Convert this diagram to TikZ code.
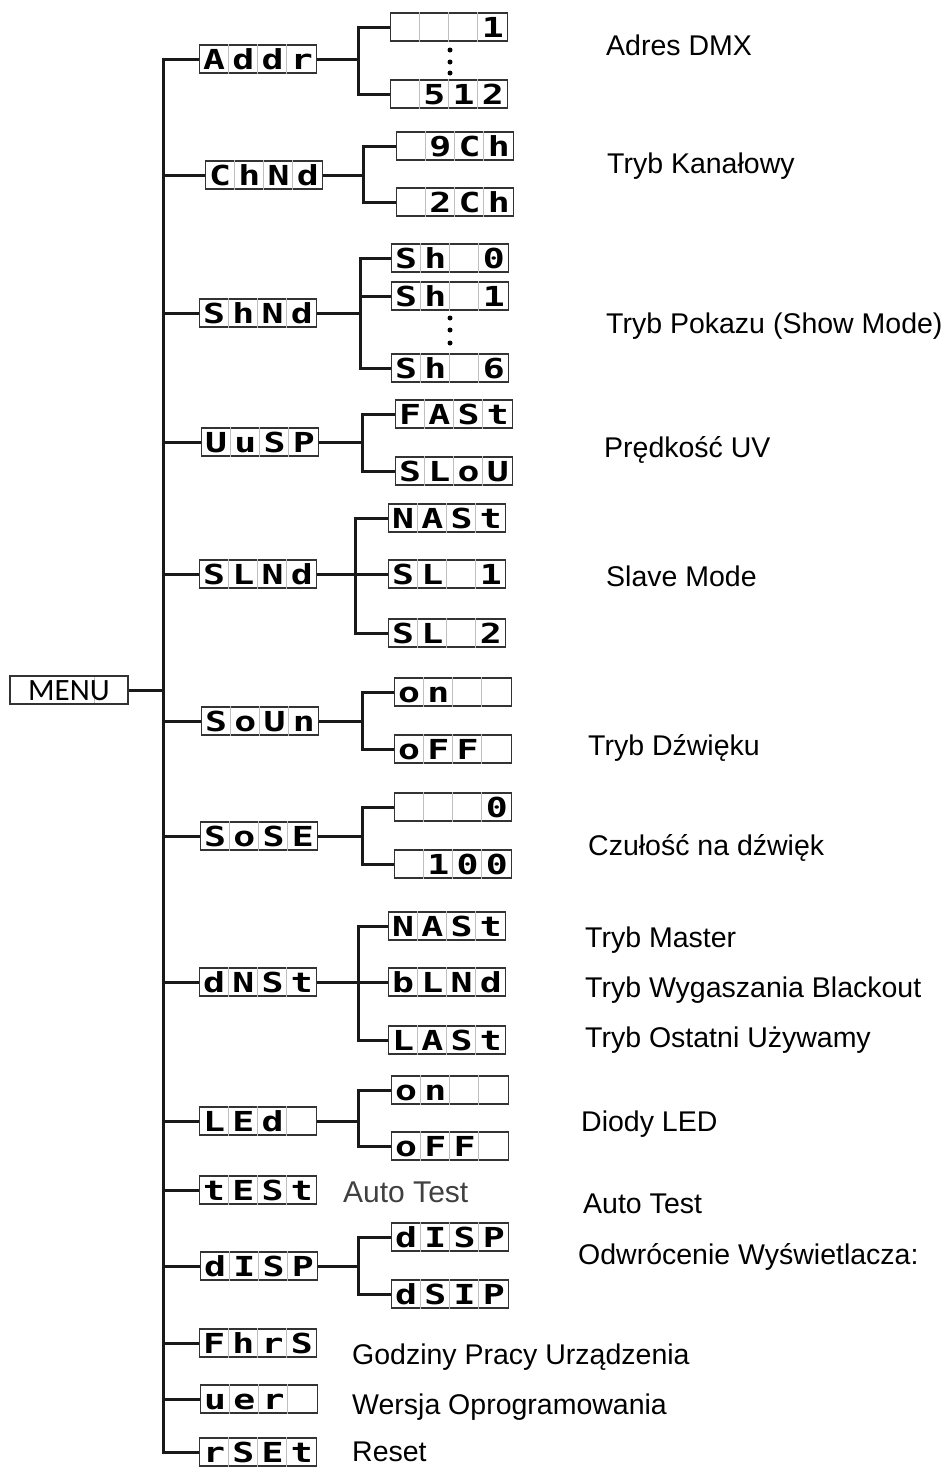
\documentclass[tikz,border=0pt]{standalone}
\usepackage{fontspec}
\usepackage{graphicx}
\setmainfont{Liberation Sans}
\newfontfamily\segfont{DejaVu Sans Mono Bold}
\newfontfamily\menufont{Carlito}
\usetikzlibrary{calc}
\tikzset{
  tree/.style={line width=3pt, draw=black!90},
  dbox/.style={draw=black!80, line width=1.4pt, minimum width=117pt, minimum height=28pt, inner sep=0pt},
  cellsep/.style={draw=black!25, line width=1pt},
  seg/.style={font=\segfont\fontsize{27}{27}\selectfont, inner sep=0pt, anchor=base},
  lbl/.style={font=\fontsize{28.5}{30}\selectfont, anchor=base west, inner sep=0pt},
  dotmark/.style={fill=black, draw=none},
}
\newcommand\segcell[4]{%
  \if\relax\detokenize{#4}\relax\else
    \node[seg] (#1) at (#2,#3) {\scalebox{1.35}[1.02]{#4}};%
  \fi}
\newcommand\dispbox[7]{%
  \node[dbox] (#1) at (#2,#3) {};
  \foreach \i in {1,2,3} {\draw[cellsep] ($(#1.south west)+(29.25*\i,0)$) -- ($(#1.north west)+(29.25*\i,0)$);}
  \segcell{#1-1}{#2-43.875}{#3+10}{#4}
  \segcell{#1-2}{#2-14.625}{#3+10}{#5}
  \segcell{#1-3}{#2+14.625}{#3+10}{#6}
  \segcell{#1-4}{#2+43.875}{#3+10}{#7}
}
\begin{document}
\begin{tikzpicture}[x=1pt,y=-1pt]
\useasboundingbox (0,0) rectangle (951,1468);

% MENU
\node[draw=black!80, line width=1.4pt, minimum width=118pt, minimum height=28pt, inner sep=0pt] (menu) at (69,690) {};
\draw[cellsep] (94,677) -- (94,703);
\node[font=\menufont\fontsize{31}{31}\selectfont, inner sep=0pt, anchor=base] (menutxt) at (69,700) {MENU};

% level 1
\dispbox{addr}{258}{59}{A}{d}{d}{r}
\dispbox{chnd}{264}{175}{C}{h}{N}{d}
\dispbox{shnd}{258}{313}{S}{h}{N}{d}
\dispbox{uusp}{260}{442}{U}{u}{S}{P}
\dispbox{slnd}{258}{574}{S}{L}{N}{d}
\dispbox{soun}{260}{721}{S}{o}{U}{n}
\dispbox{sose}{259}{836}{S}{o}{S}{E}
\dispbox{dnst}{258}{982}{d}{N}{S}{t}
\dispbox{led}{258}{1121}{L}{E}{d}{}
\dispbox{test}{258}{1190}{t}{E}{S}{t}
\dispbox{disp}{259}{1266}{d}{I}{S}{P}
\dispbox{fhrs}{258}{1343}{F}{h}{r}{S}
\dispbox{ver}{259}{1399}{u}{e}{r}{}
\dispbox{rset}{258}{1452}{r}{S}{E}{t}

% trunk
\coordinate (ttop) at (163,59);
\coordinate (tbot) at (163,1452);
\draw[tree] (addr.west) -- (ttop) -- (tbot) -- (rset.west);
\foreach \n in {chnd,shnd,uusp,slnd,soun,sose,dnst,led,test,disp,fhrs,ver} {
  \draw[tree] (\n.east -| ttop) -- (\n.west);
}
\draw[tree] (menu.east) -- (menu.east -| ttop);

% level 2
\dispbox{a1}{449}{27}{}{}{}{1}
\dispbox{a512}{449}{94}{}{5}{1}{2}
\dispbox{c9}{455}{146}{}{9}{C}{h}
\dispbox{c2}{455}{202}{}{2}{C}{h}
\dispbox{s0}{450}{258}{S}{h}{}{0}
\dispbox{s1}{450}{296}{S}{h}{}{1}
\dispbox{s6}{450}{368}{S}{h}{}{6}
\dispbox{fast}{454}{414}{F}{A}{S}{t}
\dispbox{slow}{454}{471}{S}{L}{o}{U}
\dispbox{mast}{447}{518}{N}{A}{S}{t}
\dispbox{sl1}{447}{574}{S}{L}{}{1}
\dispbox{sl2}{447}{633}{S}{L}{}{2}
\dispbox{son}{453}{692}{o}{n}{}{}
\dispbox{soff}{453}{749}{o}{F}{F}{}
\dispbox{se0}{453}{807}{}{}{}{0}
\dispbox{se100}{453}{864}{}{1}{0}{0}
\dispbox{dmast}{447}{926}{N}{A}{S}{t}
\dispbox{dblnd}{447}{982}{b}{L}{N}{d}
\dispbox{dlast}{447}{1040}{L}{A}{S}{t}
\dispbox{lon}{450}{1090}{o}{n}{}{}
\dispbox{loff}{450}{1146}{o}{F}{F}{}
\dispbox{d1}{450}{1237}{d}{I}{S}{P}
\dispbox{d2}{450}{1294}{d}{S}{I}{P}

% junctions
\coordinate (jaddr) at (358,59);
\draw[tree] (addr.east) -- (jaddr); \draw[tree] (a1.west) -| (jaddr) |- (a512.west);
\coordinate (jchnd) at (363,175);
\draw[tree] (chnd.east) -- (jchnd); \draw[tree] (c9.west) -| (jchnd) |- (c2.west);
\coordinate (jshnd) at (360,313);
\draw[tree] (shnd.east) -- (jshnd); \draw[tree] (s0.west) -| (jshnd) |- (s6.west); \draw[tree] (s1.west) -- (s1.west -| jshnd);
\coordinate (juusp) at (362,442);
\draw[tree] (uusp.east) -- (juusp); \draw[tree] (fast.west) -| (juusp) |- (slow.west);
\coordinate (jslnd) at (355,574);
\draw[tree] (slnd.east) -- (jslnd); \draw[tree] (mast.west) -| (jslnd) |- (sl2.west); \draw[tree] (jslnd) -- (sl1.west);
\coordinate (jsoun) at (362,721);
\draw[tree] (soun.east) -- (jsoun); \draw[tree] (son.west) -| (jsoun) |- (soff.west);
\coordinate (jsose) at (362,836);
\draw[tree] (sose.east) -- (jsose); \draw[tree] (se0.west) -| (jsose) |- (se100.west);
\coordinate (jdnst) at (358,982);
\draw[tree] (dnst.east) -- (jdnst); \draw[tree] (dmast.west) -| (jdnst) |- (dlast.west); \draw[tree] (jdnst) -- (dblnd.west);
\coordinate (jled) at (358,1121);
\draw[tree] (led.east) -- (jled); \draw[tree] (lon.west) -| (jled) |- (loff.west);
\coordinate (jdisp) at (358,1266);
\draw[tree] (disp.east) -- (jdisp); \draw[tree] (d1.west) -| (jdisp) |- (d2.west);

% dots
\foreach \yy in {50,62,73} {\fill[dotmark] (450,\yy) circle (2.5pt);}
\foreach \yy in {318,330,343} {\fill[dotmark] (450,\yy) circle (2.5pt);}

% labels
\node[lbl] (l1) at (606,55) {Adres DMX};
\node[lbl] (l2) at (607,173) {Tryb Kanałowy};
\node[lbl] (l3) at (606,333) {Tryb Pokazu (Show Mode)};
\node[lbl] (l4) at (604,457) {Prędkość UV};
\node[lbl] (l5) at (606,586) {Slave Mode};
\node[lbl] (l6) at (588,755) {Tryb Dźwięku};
\node[lbl] (l7) at (588,855) {Czułość na dźwięk};
\node[lbl] (l8) at (585,947) {Tryb Master};
\node[lbl] (l9) at (585,997) {Tryb Wygaszania Blackout};
\node[lbl] (l10) at (585,1047) {Tryb Ostatni Używamy};
\node[lbl] (l11) at (581,1131) {Diody LED};
\node[lbl] (l12) at (583,1213) {Auto Test};
\node[lbl] (l13) at (578,1264) {Odwrócenie Wyświetlacza:};
\node[lbl] (l14) at (352,1364) {Godziny Pracy Urządzenia};
\node[lbl] (l15) at (352,1414) {Wersja Oprogramowania};
\node[lbl] (l16) at (352,1461) {Reset};
\node[lbl, text=black!75, font=\fontsize{30}{31}\selectfont] (l17) at (343,1202) {Auto Test};
\end{tikzpicture}
\end{document}
